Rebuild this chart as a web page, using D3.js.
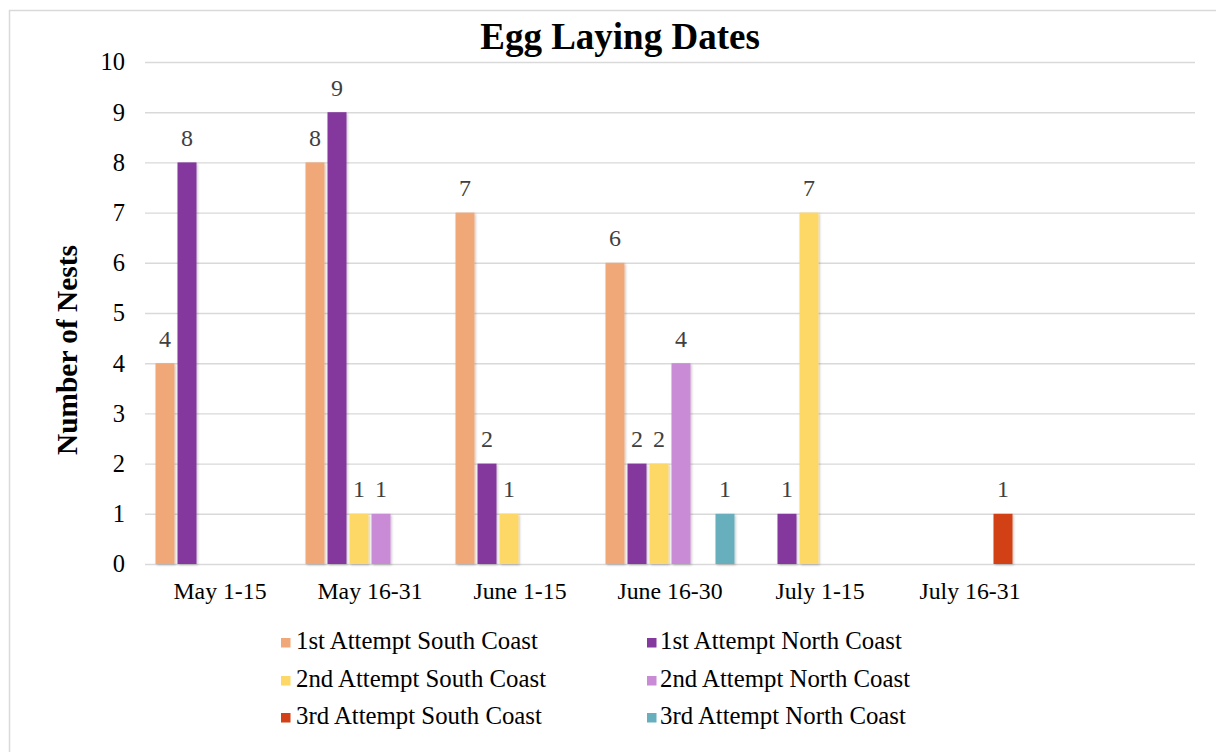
<!DOCTYPE html>
<html>
<head>
<meta charset="utf-8">
<script src="https://cdn.jsdelivr.net/npm/d3@7"></script>
<style>
  html, body { margin: 0; padding: 0; background: #fff; }
  svg { display: block; }
  text { font-family: "Liberation Serif", "Times New Roman", serif; }
</style>
</head>
<body>
<svg id="chart" width="1216" height="752"></svg>
<script>
// Date windows (the trailing blank slot keeps the empty right-hand band)
const categories = ["May 1-15", "May 16-31", "June 1-15", "June 16-30", "July 1-15", "July 16-31", ""];

// Nest counts per series; null = no nests recorded
const firstSouth  = [4, 8, 7, 6, null, null, null];
const firstNorth  = [8, 9, 2, 2, 1, null, null];
const secondSouth = [null, 1, 1, 2, 7, null, null];
const secondNorth = [null, 1, null, 4, null, null, null];
const thirdSouth  = [null, null, null, null, null, 1, null];
const thirdNorth  = [null, null, null, 1, null, null, null];

const seriesNames = [
  "1st Attempt South Coast", "1st Attempt North Coast",
  "2nd Attempt South Coast", "2nd Attempt North Coast",
  "3rd Attempt South Coast", "3rd Attempt North Coast"
];
const seriesColors = ["#F1A878", "#84399E", "#FDD866", "#C98AD6", "#D24117", "#68AFBD"];
const yTicks = [0, 1, 2, 3, 4, 5, 6, 7, 8, 9, 10];

const seriesValues = [firstSouth, firstNorth, secondSouth, secondNorth, thirdSouth, thirdNorth];
const series = seriesNames.map((name, i) => ({ name, color: seriesColors[i], values: seriesValues[i] }));

const svg = d3.select("#chart");

// Faint drop shadow under the bars
const defs = svg.append("defs");
const f = defs.append("filter").attr("id", "barShadow")
  .attr("x", "-20%").attr("y", "-5%").attr("width", "150%").attr("height", "115%");
f.append("feDropShadow").attr("dx", 1.2).attr("dy", 1.2).attr("stdDeviation", 1)
  .attr("flood-color", "#000").attr("flood-opacity", 0.22);

// Outer chart frame
svg.append("rect")
  .attr("x", 9.5).attr("y", 10.5).attr("width", 1300).attr("height", 800)
  .attr("fill", "none").attr("stroke", "#d9d9d9").attr("stroke-width", 1.5);

const plot = { left: 145, right: 1195, top: 62, bottom: 564 };

const x = d3.scaleBand().domain(categories.map((c, i) => i))
  .range([plot.left, plot.right]).paddingInner(0).paddingOuter(0);

const xs = d3.scaleBand().domain(d3.range(series.length))
  .range([10.5, 139.5]).paddingInner(3 / 22).paddingOuter(0);

const y = d3.scaleLinear().domain([0, 10]).range([plot.bottom, plot.top]);

// Horizontal gridlines + y tick labels via d3 axis
const yAxis = d3.axisLeft(y).tickValues(yTicks).tickSize(-(plot.right - plot.left)).tickPadding(20).tickFormat(d3.format("d"));
const gy = svg.append("g").attr("transform", `translate(${plot.left},0)`).call(yAxis);
gy.select(".domain").remove();
gy.selectAll(".tick line").attr("stroke", "#d9d9d9").attr("stroke-width", 1.4);
gy.selectAll(".tick text").attr("fill", "#000").attr("font-size", 24.5)
  .attr("font-family", "Liberation Serif, serif").attr("x", -20);

// Category labels via d3 axis
const xAxis = d3.axisBottom(x).tickSize(0).tickPadding(0).tickFormat(i => categories[i]);
const gx = svg.append("g").attr("transform", `translate(0,${plot.bottom})`).call(xAxis);
gx.select(".domain").remove();
gx.selectAll(".tick text").attr("fill", "#000").attr("font-size", 23.8)
  .attr("font-family", "Liberation Serif, serif").attr("dy", 0).attr("y", 35);

// Bars
const groups = svg.append("g").selectAll("g.cat")
  .data(categories.map((c, ci) => ci))
  .join("g").attr("class", "cat")
  .attr("transform", ci => `translate(${x(ci)},0)`);

const cells = groups.selectAll("g.cell")
  .data(ci => series.map((s, si) => ({ si, v: s.values[ci], color: s.color })).filter(d => d.v != null))
  .join("g").attr("class", "cell");

cells.append("rect")
  .attr("x", d => xs(d.si))
  .attr("width", xs.bandwidth())
  .attr("y", d => y(d.v))
  .attr("height", d => y(0) - y(d.v))
  .attr("fill", d => d.color)
  .attr("filter", "url(#barShadow)");

// Value labels above bars
cells.append("text")
  .attr("x", d => xs(d.si) + xs.bandwidth() / 2)
  .attr("y", d => y(d.v) - 16.5)
  .attr("text-anchor", "middle")
  .attr("font-size", 24)
  .attr("fill", "#404040")
  .text(d => d.v);

// Title
svg.append("text")
  .attr("x", 620).attr("y", 49)
  .attr("text-anchor", "middle")
  .attr("font-size", 37).attr("font-weight", "bold")
  .text("Egg Laying Dates");

// Y axis title
svg.append("text")
  .attr("transform", "translate(77,350) rotate(-90)")
  .attr("text-anchor", "middle")
  .attr("font-size", 29.4).attr("font-weight", "bold")
  .text("Number of Nests");

// Legend: two columns, three rows
const legend = svg.append("g");
const legItems = legend.selectAll("g").data(series).join("g")
  .attr("transform", (d, i) => `translate(${i % 2 === 0 ? 281 : 647},${[649, 687, 724][Math.floor(i / 2)]})`);
legItems.append("rect").attr("x", 0).attr("y", -11).attr("width", 9.5).attr("height", 9.5).attr("fill", d => d.color);
legItems.append("text").attr("x", (d, i) => i % 2 === 0 ? 15 : 13).attr("y", 0)
  .attr("font-size", 24.8).attr("fill", "#000").text(d => d.name);
</script>
</body>
</html>
